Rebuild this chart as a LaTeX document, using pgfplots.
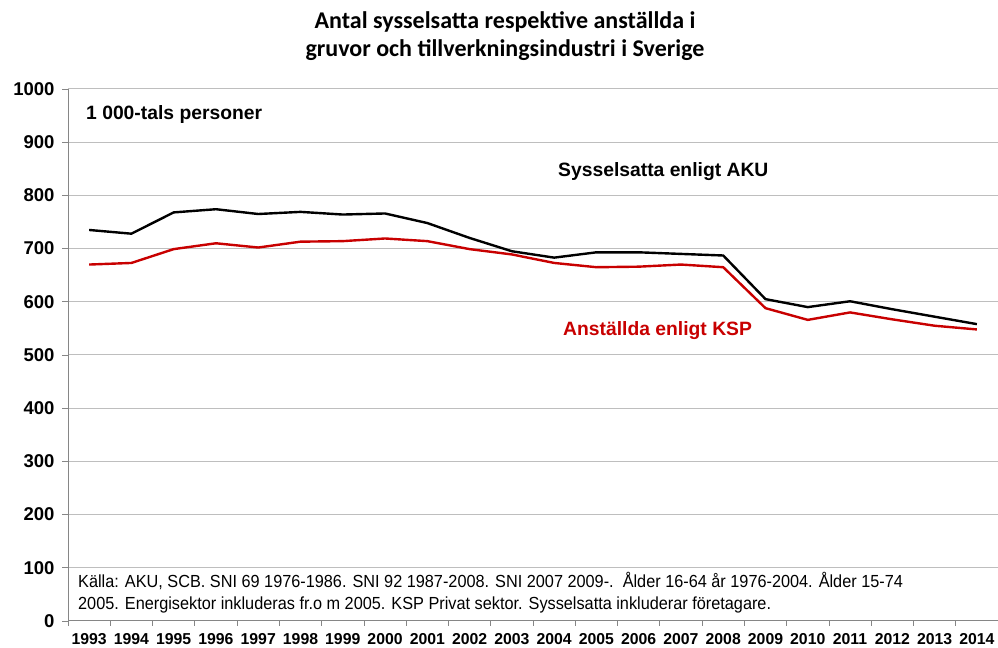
\documentclass[border=0pt]{standalone}
\usepackage{pgfplots}
\pgfplotsset{compat=1.18}
\usepackage{fontspec}
\setmainfont{Liberation Sans}
\newfontfamily\calibri{Carlito}
\definecolor{kspred}{RGB}{200,0,0}
\definecolor{gridgray}{RGB}{190,190,190}
\definecolor{axgray}{RGB}{134,134,134}
\begin{document}
\begin{tikzpicture}[x=1bp,y=1bp]
\path[use as bounding box] (0,0) rectangle (998,648);
\begin{axis}[
  at={(68bp,27bp)}, anchor=south west,
  scale only axis, width=930bp, height=532bp,
  xmin=-0.5, xmax=21.5, ymin=0, ymax=1000,
  axis lines*=left,
  axis line style={-, draw=axgray, line width=1bp},
  xtick={0,...,21},
  xticklabels={1993,1994,1995,1996,1997,1998,1999,2000,2001,2002,2003,2004,2005,2006,2007,2008,2009,2010,2011,2012,2013,2014},
  major x tick style={draw=none},
  minor xtick={-0.5,0.5,...,21.5},
  minor tick length=5bp,
  minor x tick style={draw=axgray, line width=0.8bp},
  ytick={0,100,...,1000},
  ymajorgrids, major grid style={draw=gridgray, line width=1bp},
  major y tick style={draw=axgray, line width=0.8bp},
  major tick length=6bp,
  tick align=outside,
  /pgf/number format/assume math mode=true,
  /pgf/number format/set thousands separator={},
  xticklabel style={font=\fontsize{15.8bp}{19bp}\selectfont\bfseries, yshift=-3bp},
  yticklabel style={font=\fontsize{18.5bp}{21bp}\selectfont\bfseries, xshift=-4bp},
  clip=false,
]
\addplot[black, line width=2.4bp] coordinates {
(0,735) (1,728) (2,768) (3,774) (4,765) (5,769) (6,764) (7,766) (8,748) (9,720) (10,695)
(11,683) (12,693) (13,693) (14,690) (15,687) (16,605) (17,590) (18,601) (19,586) (20,572) (21,558)};
\addplot[kspred, line width=2.4bp] coordinates {
(0,670) (1,673) (2,699) (3,710) (4,702) (5,713) (6,714) (7,719) (8,714) (9,699) (10,689)
(11,673) (12,665) (13,666) (14,670) (15,665) (16,588) (17,566) (18,580) (19,567) (20,555) (21,548)};
\end{axis}
\node[font=\calibri\fontsize{24bp}{28bp}\selectfont\bfseries, align=center] at (505,612) {Antal sysselsatta respektive anställda i\\gruvor och tillverkningsindustri i Sverige};
\node[anchor=west, inner sep=0pt, font=\fontsize{19.3bp}{22bp}\selectfont\bfseries] at (86,533) {1 000-tals personer};
\node[anchor=west, inner sep=0pt, font=\fontsize{19.3bp}{22bp}\selectfont\bfseries] at (558,476) {Sysselsatta enligt AKU};
\node[anchor=west, inner sep=0pt, text=kspred, font=\fontsize{19.3bp}{22bp}\selectfont\bfseries] at (563,317) {Anställda enligt KSP};
\node[anchor=north west, align=left, inner sep=0pt, font=\fontsize{17.5bp}{22bp}\selectfont] at (78,76) {\scalebox{0.93}[1]{Källa: AKU, SCB. SNI 69 1976-1986. SNI 92 1987-2008. SNI 2007 2009-.\ \ Ålder 16-64 år 1976-2004. Ålder 15-74}\\\scalebox{0.93}[1]{2005. Energisektor inkluderas fr.o m 2005. KSP Privat sektor. Sysselsatta inkluderar företagare.}};
\end{tikzpicture}
\end{document}
